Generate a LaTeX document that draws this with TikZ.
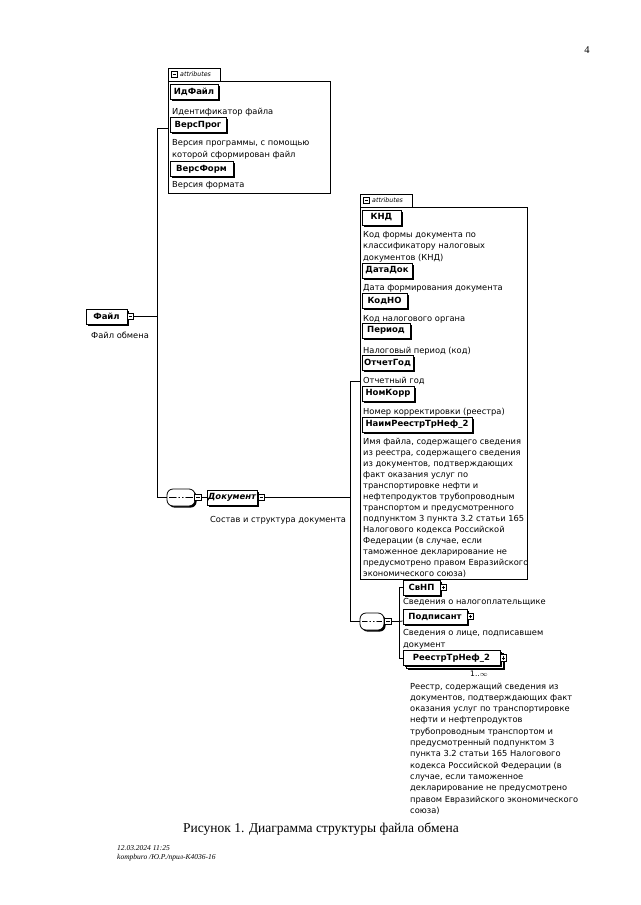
\documentclass[tikz,border=0pt]{standalone}
\usepackage{fontspec}
\setmainfont{Liberation Serif}
\newfontfamily\dvs{DejaVu Sans}
\usetikzlibrary{shadows}
\newcommand\descfont{\dvs\fontsize{8.3}{11.5}\selectfont}
\newcommand\descfontb{\dvs\fontsize{8.3}{11.0}\selectfont}
\newcommand\descfontc{\dvs\fontsize{8.3}{11.3}\selectfont}
\newcommand\lblfont{\dvs\bfseries\fontsize{8.5}{10}\selectfont}
\tikzset{
  shd/.style={drop shadow={shadow xshift=1.6pt, shadow yshift=-1.6pt, fill=black, opacity=1}},
  elbox/.style={draw, fill=white, font=\lblfont, inner sep=0pt, minimum height=15pt, line width=0.8pt, shd},
  desc/.style={font=\descfont, align=left, anchor=north west, inner sep=0pt},
  pm/.style={draw, fill=white, minimum size=6.5pt, inner sep=0pt, line width=0.6pt,
    path picture={\draw ([xshift=1.3pt]path picture bounding box.west) -- ([xshift=-1.3pt]path picture bounding box.east);}},
  pp/.style={draw, fill=white, minimum size=6.5pt, inner sep=0pt, line width=0.6pt,
    path picture={\draw ([xshift=1.3pt]path picture bounding box.west) -- ([xshift=-1.3pt]path picture bounding box.east);
      \draw ([yshift=1.3pt]path picture bounding box.south) -- ([yshift=-1.3pt]path picture bounding box.north);}},
  seqbox/.style={draw, fill=white, rounded corners=6pt, minimum height=17pt, inner sep=0pt, line width=0.8pt, shd,
    path picture={\draw ([xshift=2pt]path picture bounding box.west) -- ([xshift=-2pt]path picture bounding box.east);
      \fill (path picture bounding box.center) circle (1.2pt);
      \fill ([xshift=-3.5pt]path picture bounding box.center) circle (1.2pt);
      \fill ([xshift=3.5pt]path picture bounding box.center) circle (1.2pt);}},
  attbox/.style={draw, line width=0.8pt, inner sep=0pt, anchor=north west},
  tabbox/.style={draw, fill=white, line width=0.8pt, inner sep=0pt, anchor=north west, minimum height=13pt},
  tabtxt/.style={font=\dvs\itshape\fontsize{6.3}{7}\selectfont, inner sep=0pt, anchor=west},
  conn/.style={line width=0.8pt}
}
\begin{document}
\begin{tikzpicture}[x=1pt,y=-1pt]
\useasboundingbox (0,0) rectangle (640,905);
\fill[white] (0,0) rectangle (640,905);

\node[font=\fontsize{10.5}{12}\selectfont] (pg) at (587,50) {4};

% ---------- top attributes ----------
\node[attbox, minimum width=162pt, minimum height=112pt] (att1) at (168,81) {};
\node[tabbox, minimum width=52pt] (tab1) at (168,68) {};
\node[pm] (tab1pm) at (174.5,74.5) {};
\node[tabtxt] (tab1t) at (180,74.5) {attributes};

\node[elbox, minimum width=48pt] (idf) at (194,92) {ИдФайл};
\node[desc] (didf) at (172,107.5) {Идентификатор файла};
\node[elbox, minimum width=56pt] (vp) at (198,125) {ВерсПрог};
\node[desc] (dvp) at (172,139.5) {Версия программы, с помощью\\которой сформирован файл};
\node[elbox, minimum width=63pt] (vf) at (201.5,169) {ВерсФорм};
\node[desc] (dvf) at (172,181) {Версия формата};

% ---------- root ----------
\node[elbox, minimum width=41pt] (fajl) at (106.5,316.5) {Файл};
\node[pm] (fajlpm) at (130.5,316.5) {};
\node[desc] (dfajl) at (91,332) {Файл обмена};

\coordinate (k1) at (157,128);
\coordinate (k2) at (157,316.5);
\coordinate (k3) at (157,497.5);
\draw[conn] (k1) -- (k3);
\draw[conn] (k1) -- (k1 -| att1.west);
\draw[conn] (fajlpm) -- (k2);

% ---------- sequence 1 ----------
\node[seqbox, minimum width=28pt] (seq1) at (181,497.5) {};
\node[pm] (seq1pm) at (198,497.5) {};
\draw[conn] (k3) -- (seq1);
\node[elbox, minimum width=50pt, font=\dvs\bfseries\itshape\fontsize{8.5}{10}\selectfont] (doc) at (232,497.5) {Документ};
\node[pm] (docpm) at (261.5,497.5) {};
\draw[conn] (seq1pm) -- (doc);
\node[desc] (ddoc) at (210,516.5) {Состав и структура документа};

\coordinate (m1) at (350,381);
\coordinate (m2) at (350,497.5);
\coordinate (m3) at (350,621.5);
\draw[conn] (docpm) -- (m2);
\draw[conn] (m1) -- (m3);

% ---------- middle attributes ----------
\node[attbox, minimum width=167pt, minimum height=372pt] (att2) at (360,207) {};
\node[tabbox, minimum width=52pt] (tab2) at (360,194) {};
\node[pm] (tab2pm) at (366.5,200.5) {};
\node[tabtxt] (tab2t) at (372,200.5) {attributes};
\draw[conn] (m1) -- (m1 -| att2.west);

\node[elbox, minimum width=39pt] (knd) at (381.5,217.5) {КНД};
\node[desc] (dknd) at (363,231) {Код формы документа по\\классификатору налоговых\\документов (КНД)};
\node[elbox, minimum width=50pt] (dd) at (387,270.5) {ДатаДок};
\node[desc] (ddd) at (363,284) {Дата формирования документа};
\node[elbox, minimum width=45pt] (kno) at (384.5,300.5) {КодНО};
\node[desc] (dkno) at (363,315) {Код налогового органа};
\node[elbox, minimum width=48pt] (per) at (386,330.5) {Период};
\node[desc] (dper) at (363,347) {Налоговый период (код)};
\node[elbox, minimum width=51pt] (og) at (387.5,362.5) {ОтчетГод};
\node[desc] (dog) at (363,377) {Отчетный год};
\node[elbox, minimum width=52pt] (nk) at (388,393.5) {НомКорр};
\node[desc] (dnk) at (363,408) {Номер корректировки (реестра)};
\node[elbox, minimum width=110pt] (naim) at (417,424.5) {НаимРеестрТрНеф\_2};
\node[desc, font=\descfontb] (dnaim) at (363,438) {Имя файла, содержащего сведения\\из реестра, содержащего сведения\\из документов, подтверждающих\\факт оказания услуг по\\транспортировке нефти и\\нефтепродуктов трубопроводным\\транспортом и предусмотренного\\подпунктом 3 пункта 3.2 статьи 165\\Налогового кодекса Российской\\Федерации (в случае, если\\таможенное декларирование не\\предусмотрено правом Евразийского\\экономического союза)};

% ---------- sequence 2 ----------
\node[seqbox, minimum width=24pt] (seq2) at (372,621.5) {};
\node[pm] (seq2pm) at (388,621.5) {};
\draw[conn] (m3) -- (seq2);

\coordinate (n1) at (399,587.5);
\coordinate (n2) at (399,621.5);
\coordinate (n3) at (399,658);
\draw[conn] (seq2pm) -- (n2);
\draw[conn] (n1) -- (n3);

\node[elbox, minimum width=37pt] (svnp) at (421.5,587.5) {СвНП};
\node[pp] (svnppp) at (443.5,587.5) {};
\node[desc] (dsvnp) at (403,598.5) {Сведения о налогоплательщике};
\node[elbox, minimum width=64pt] (podp) at (435,616.5) {Подписант};
\node[pp] (podppp) at (470.5,616.5) {};
\node[desc] (dpodp) at (403,629.5) {Сведения о лице, подписавшем\\документ};
\node[elbox, minimum width=97pt] (reestrback) at (454.5,661) {};
\node[elbox, minimum width=97pt] (reestr) at (451.5,658) {РеестрТрНеф\_2};
\node[pp] (reestrpp) at (503.5,658) {};
\node[font=\dvs\fontsize{7.5}{8}\selectfont, inner sep=0pt] (mult) at (479,674) {1..$\infty$};
\node[desc, font=\descfontc] (dreestr) at (410,682.5) {Реестр, содержащий сведения из\\документов, подтверждающих факт\\оказания услуг по транспортировке\\нефти и нефтепродуктов\\трубопроводным транспортом и\\предусмотренный подпунктом 3\\пункта 3.2 статьи 165 Налогового\\кодекса Российской Федерации (в\\случае, если таможенное\\декларирование не предусмотрено\\правом Евразийского экономического\\союза)};
\draw[conn] (n1) -- (svnp);
\draw[conn] (n2) -- (podp);
\draw[conn] (n3) -- (reestr);

% ---------- caption ----------
\node[font=\fontsize{13.5}{16}\selectfont] (cap) at (321,829) {Рисунок 1. Диаграмма структуры файла обмена};
\node[anchor=west, inner sep=0pt, font=\itshape\fontsize{7.5}{8}\selectfont] (f1) at (117,848) {12.03.2024 11:25};
\node[anchor=west, inner sep=0pt, font=\itshape\fontsize{7.5}{8}\selectfont] (f2) at (117,858) {kompburo /Ю.Р./прил-К4036-16};
\end{tikzpicture}
\end{document}
